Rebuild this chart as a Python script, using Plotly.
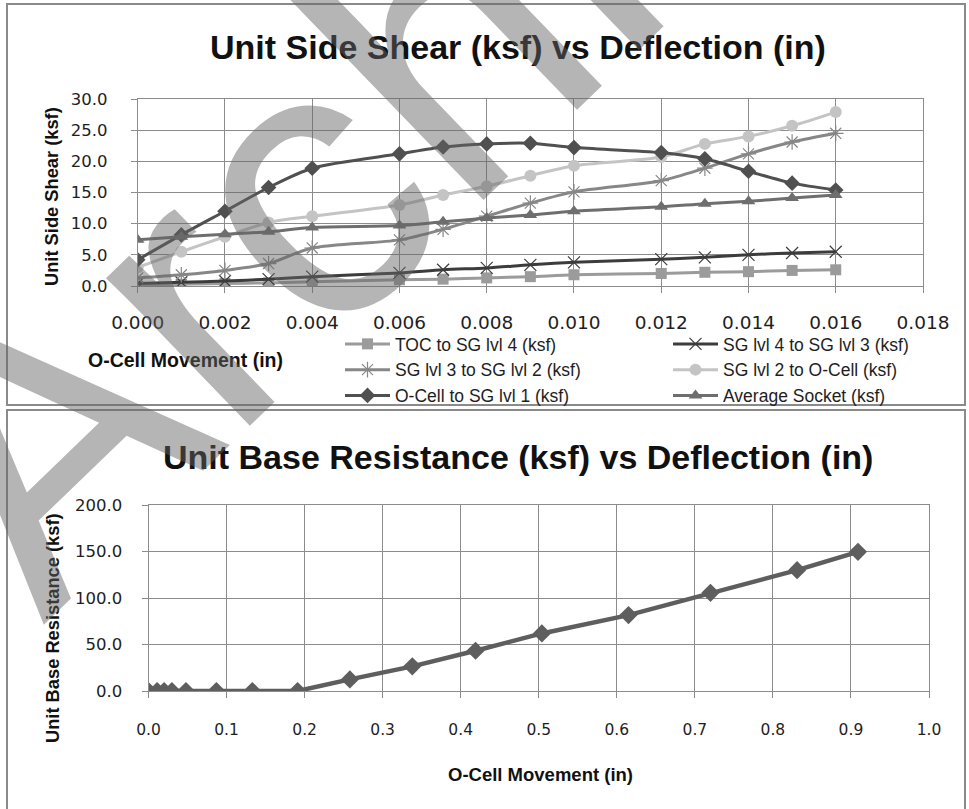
import plotly.graph_objects as go

W, H = 969, 809

# ---- Unit side shear vs O-Cell movement ----
movement_in = [0.000, 0.001, 0.002, 0.003, 0.004, 0.006, 0.007, 0.008,
               0.009, 0.010, 0.012, 0.013, 0.014, 0.015, 0.016]
toc_to_sg4 = [0.0, 0.3, 0.4, 0.5, 0.7, 1.0, 1.1, 1.3, 1.5, 1.8, 2.0, 2.2, 2.3, 2.5, 2.6]
sg4_to_sg3 = [0.4, 0.6, 0.8, 1.1, 1.5, 2.1, 2.6, 2.9, 3.4, 3.8, 4.3, 4.6, 5.0, 5.3, 5.5]
sg3_to_sg2 = [1.3, 1.8, 2.5, 3.6, 6.1, 7.4, 9.1, 11.2, 13.3, 15.1, 16.9, 18.9, 21.2, 23.1, 24.5]
sg2_to_ocell = [3.0, 5.5, 7.9, 10.2, 11.2, 13.0, 14.6, 16.0, 17.7, 19.3, 20.7, 22.8, 24.0, 25.7, 27.9]
ocell_to_sg1 = [4.2, 8.2, 12.0, 15.8, 18.9, 21.2, 22.3, 22.8, 22.9, 22.2, 21.4, 20.4, 18.4, 16.5, 15.4]
average_socket = [7.4, 7.9, 8.3, 8.7, 9.4, 9.7, 10.3, 10.9, 11.4, 12.0, 12.7, 13.2, 13.6, 14.1, 14.6]

# ---- Unit base resistance vs O-Cell movement ----
base_movement_in = [0.000, 0.011, 0.020, 0.030, 0.048, 0.087, 0.133, 0.191,
                    0.258, 0.338, 0.419, 0.504, 0.615, 0.720, 0.831, 0.909]
base_resistance = [0.0, 0.0, 0.0, 0.0, 0.0, 0.0, 0.0, 0.0,
                   12.5, 26.5, 43.3, 61.9, 81.6, 105.6, 129.9, 149.6]

shear_series = [
    ("TOC to SG lvl 4 (ksf)", toc_to_sg4, "#9b9b9b", "square", 11, "legend"),
    ("SG lvl 4 to SG lvl 3 (ksf)", sg4_to_sg3, "#3c3c3c", "x-thin-open", 12, "legend2"),
    ("SG lvl 3 to SG lvl 2 (ksf)", sg3_to_sg2, "#878787", "asterisk-open", 13, "legend"),
    ("SG lvl 2 to O-Cell (ksf)", sg2_to_ocell, "#c4c4c4", "circle", 12, "legend2"),
    ("O-Cell to SG lvl 1 (ksf)", ocell_to_sg1, "#505050", "diamond", 12, "legend"),
    ("Average Socket (ksf)", average_socket, "#6e6e6e", "triangle-up", 12, "legend2"),
]


def fx(p):
    return p / W


def fy(p):
    return 1 - p / H


fig = go.Figure()

for name, values, color, symbol, size, leg in shear_series:
    open_sym = symbol.endswith("open")
    fig.add_trace(go.Scatter(
        x=movement_in, y=values, name=name, mode="lines+markers",
        line=dict(color=color, width=3, shape="spline", smoothing=0.8),
        marker=dict(symbol=symbol, size=size, color=color,
                    line=dict(color=color, width=1.2 if open_sym else 0)),
        xaxis="x", yaxis="y", legend=leg,
    ))

fig.add_trace(go.Scatter(
    x=base_movement_in, y=base_resistance, name="Unit Base Resistance (ksf)",
    mode="lines+markers", showlegend=False,
    line=dict(color="#5e5e5e", width=4.5),
    marker=dict(symbol="diamond", size=14, color="#5e5e5e"),
    xaxis="x2", yaxis="y2",
))

grid = "#8c8c8c"
tick_font_family = "DejaVu Sans"
axis_common = dict(showgrid=True, gridcolor=grid, gridwidth=1, zeroline=False,
                   showline=True, linecolor=grid, linewidth=1, mirror=True,
                   ticks="outside", tickcolor=grid, ticklen=6)
legend_font = dict(family="Liberation Sans", size=17.5, color="#1e1e1e")

fig.update_layout(
    width=W, height=H, autosize=False,
    margin=dict(l=0, r=0, t=0, b=0, pad=0, autoexpand=False),
    paper_bgcolor="white", plot_bgcolor="white",
    xaxis=dict(domain=[fx(137.7), fx(923)], range=[0, 0.018000001], dtick=0.002, tick0=0,
               tickformat=".3f", anchor="y",
               tickfont=dict(family=tick_font_family, size=18.5, color="#1e1e1e"),
               ticklabelstandoff=14, **axis_common),
    yaxis=dict(domain=[fy(286), fy(99)], range=[0, 30.00001], dtick=5, tick0=0,
               tickformat=".1f", anchor="x",
               tickfont=dict(family=tick_font_family, size=16.5, color="#1e1e1e"),
               ticklabelstandoff=20, **axis_common),
    xaxis2=dict(domain=[fx(148.5), fx(929)], range=[0, 1.0000001], dtick=0.1, tick0=0,
                tickformat=".1f", anchor="y2",
                tickfont=dict(family=tick_font_family, size=15.5, color="#1e1e1e"),
                ticklabelstandoff=18, **axis_common),
    yaxis2=dict(domain=[fy(691), fy(505)], range=[0, 200.0001], dtick=50, tick0=0,
                tickformat=".1f", anchor="x2",
                tickfont=dict(family=tick_font_family, size=16.5, color="#1e1e1e"),
                ticklabelstandoff=16, **axis_common),
    legend=dict(x=fx(340), y=fy(326), xanchor="left", yanchor="top",
                font=legend_font, bgcolor="rgba(0,0,0,0)", itemwidth=45, borderwidth=0),
    legend2=dict(x=fx(668), y=fy(326), xanchor="left", yanchor="top",
                 font=legend_font, bgcolor="rgba(0,0,0,0)", itemwidth=45, borderwidth=0),
    showlegend=True,
)

# chart frames
for top, bottom in [(4, 405), (410, 815)]:
    fig.add_shape(type="rect", xref="paper", yref="paper",
                  x0=fx(7), x1=fx(965), y0=fy(bottom), y1=fy(top),
                  line=dict(color="#8a8a8a", width=2), fillcolor="rgba(0,0,0,0)",
                  layer="below")


def text(x, y, s, size, angle=0):
    fig.add_annotation(x=fx(x), y=fy(y), xref="paper", yref="paper", text=s,
                       showarrow=False, xanchor="center", yanchor="middle",
                       textangle=angle,
                       font=dict(family="Liberation Sans", size=size, color="#111111"))


text(518, 47, "<b>Unit Side Shear (ksf) vs Deflection (in)</b>", 34)
text(518, 457, "<b>Unit Base Resistance (ksf) vs Deflection (in)</b>", 34)
text(51, 197, "<b>Unit Side Shear (ksf)</b>", 18.3, -90)
text(52, 628, "<b>Unit Base Resistance (ksf)</b>", 18.3, -90)
text(185, 360, "<b>O-Cell Movement (in)</b>", 19.5)
text(540, 774, "<b>O-Cell Movement (in)</b>", 18.5)

# diagonal watermark across both panels
fig.add_annotation(x=fx(416.5), y=fy(76.7), xref="paper", yref="paper",
                   text="Archive", showarrow=False, xanchor="center",
                   yanchor="middle", textangle=-44,
                   font=dict(family="Liberation Sans", size=390,
                             color="rgba(100,100,100,0.48)"))

fig.write_html("out.html")
